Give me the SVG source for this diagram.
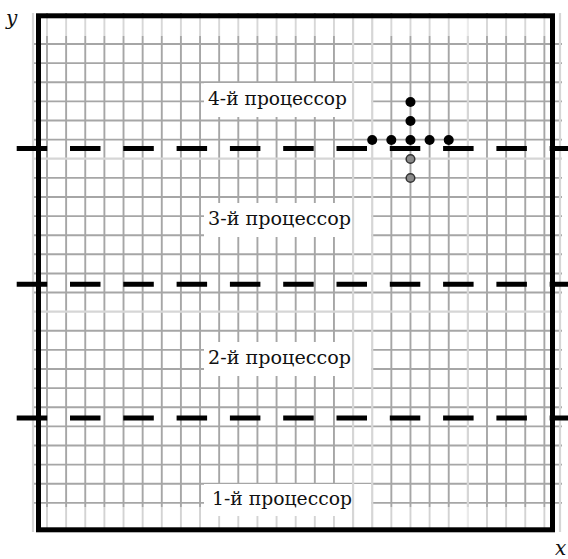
<svg xmlns="http://www.w3.org/2000/svg" width="568" height="559" viewBox="0 0 568 559">
<style>
.grid{stroke:#a6a6a6;stroke-width:1.9;fill:none}
.pale{stroke:#d6d6d6;stroke-width:2.2;fill:none}
.frame{stroke:#000;stroke-width:5;fill:none}
.dash{stroke:#000;stroke-width:5;stroke-dasharray:30.5 22.8;fill:none}
.box{fill:#fff}
.lbl{font-family:"DejaVu Serif","Liberation Serif",serif;font-size:19px;fill:#111}
.axis{font-family:"DejaVu Serif","Liberation Serif",serif;font-style:italic;font-size:20px;fill:#111}
.dot{fill:#000}
.gdot{fill:#8a8a8a;stroke:#333;stroke-width:1.5}
</style>
<rect width="568" height="559" fill="#fff"/>
<g id="grid">
<path class="grid" d="M47 13V532M66.13 13V532M85.26 13V532M104.39 13V532M123.52 13V532M142.65 13V532M161.78 13V532M180.91 13V532M200.04 13V532M219.17 13V532M238.3 13V532M257.43 13V532M276.56 13V532M295.69 13V532M314.82 13V532M333.95 13V532M391.34 13V532M410.47 13V532M429.6 13V532M448.73 13V532M486.99 13V532M506.12 13V532M525.25 13V532M544.38 13V532"/>
<path class="grid" d="M33 44H562M33 63.12H562M33 82.24H562M33 101.36H562M33 120.48H562M33 139.6H562M33 177.84H562M33 196.96H562M33 216.08H562M33 235.2H562M33 254.32H562M33 273.44H562M33 292.56H562M33 330.8H562M33 349.92H562M33 369.04H562M33 388.16H562M33 407.28H562M33 426.4H562M33 445.52H562M33 464.64H562M33 483.76H562M33 502.88H562"/>
<path class="pale" d="M33 158.72H562M33 311.68H562M467.86 13V532M33 13V532M560 13V532"/>
<rect x="36" y="17" width="519" height="19" fill="#fff" opacity="0.55"/>
<rect x="36" y="507" width="519" height="21" fill="#fff" opacity="0.5"/>
</g>
<g id="label-4">
<rect class="box" x="204" y="83" width="167" height="34"/>
<text class="lbl" x="208" y="105" textLength="139" lengthAdjust="spacingAndGlyphs">4-й процессор</text>
</g>
<g id="label-3">
<rect class="box" x="204" y="203" width="167" height="34"/>
<text class="lbl" x="208" y="225" textLength="143" lengthAdjust="spacingAndGlyphs">3-й процессор</text>
</g>
<g id="label-2">
<rect class="box" x="204" y="342" width="167" height="34"/>
<text class="lbl" x="208" y="364" textLength="143" lengthAdjust="spacingAndGlyphs">2-й процессор</text>
</g>
<g id="label-1">
<rect class="box" x="204" y="484" width="167" height="32"/>
<text class="lbl" x="212" y="505" textLength="140" lengthAdjust="spacingAndGlyphs">1-й процессор</text>
</g>
<g id="pale-over">
<path class="pale" d="M353.08 13V532M372.21 13V532"/>
</g>
<g id="frame">
<rect class="frame" x="38.5" y="15.8" width="514" height="514"/>
</g>
<g id="connectors">
<path class="dash" d="M16.7 148.5H568"/>
<path class="dash" d="M16.7 284.3H568"/>
<path class="dash" d="M16.7 418H568"/>
</g>
<g id="points">
<circle class="dot" cx="410.47" cy="102" r="5"/>
<circle class="dot" cx="410.47" cy="121" r="5"/>
<circle class="dot" cx="372.21" cy="140" r="5"/>
<circle class="dot" cx="391.34" cy="140" r="5"/>
<circle class="dot" cx="410.47" cy="140" r="5"/>
<circle class="dot" cx="429.6" cy="140" r="5"/>
<circle class="dot" cx="448.73" cy="140" r="5"/>
<circle class="gdot" cx="410.47" cy="159" r="4.3"/>
<circle class="gdot" cx="410.47" cy="178" r="4.3"/>
</g>
<g id="axes">
<text class="axis" x="6" y="25">y</text>
<text class="axis" x="555" y="555">x</text>
</g>
</svg>
